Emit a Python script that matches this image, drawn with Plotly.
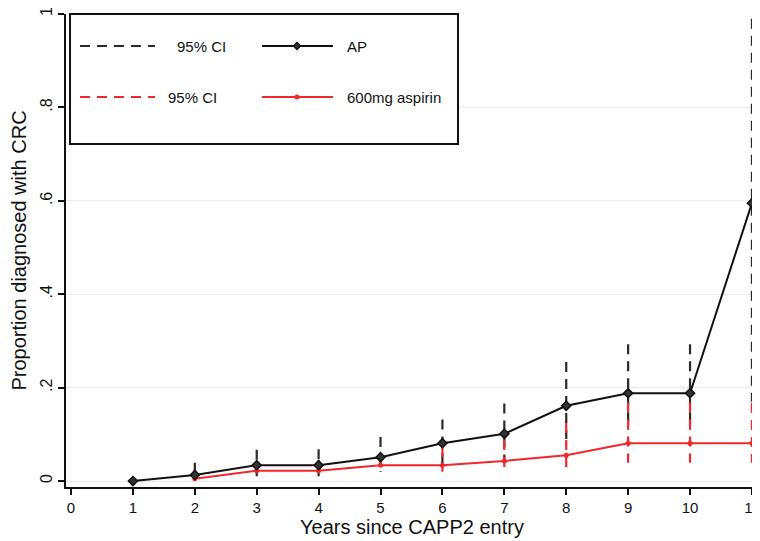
import plotly.graph_objects as go

# ---- data ----
years = [1, 2, 3, 4, 5, 6, 7, 8, 9, 10, 11]
ap = [0.0, 0.013, 0.034, 0.034, 0.051, 0.081, 0.101, 0.161, 0.188, 0.188, 0.595]
ap_lo = [None, 0.002, 0.010, 0.010, 0.020, 0.035, 0.045, 0.090, 0.110, 0.110, 0.170]
ap_hi = [None, 0.039, 0.067, 0.068, 0.094, 0.132, 0.166, 0.255, 0.293, 0.293, 0.990]

asp_years = [2, 3, 4, 5, 6, 7, 8, 9, 10, 11]
asp = [0.005, 0.022, 0.022, 0.034, 0.034, 0.043, 0.055, 0.081, 0.081, 0.081]
asp_lo = [0.0, 0.009, 0.011, 0.020, 0.020, 0.028, 0.030, 0.039, 0.039, 0.039]
asp_hi = [0.024, 0.041, 0.045, 0.056, 0.073, 0.088, 0.124, 0.168, 0.168, 0.167]

x_ticks = list(range(0, 12))
y_ticks = [0, 0.2, 0.4, 0.6, 0.8, 1.0]
y_ticktext = ["0", ".2", ".4", ".6", ".8", "1"]

x_title = "Years since CAPP2 entry"
y_title = "Proportion diagnosed with CRC"
legend_ci = "95% CI"
legend_ap = "AP"
legend_asp = "600mg aspirin"

BLACK = "#111111"
DASHBLK = "#2a2a2a"
RED = "#f0282d"
FONT = "Liberation Sans, Arial, sans-serif"


def ci_segments(xs, lo, hi):
    sx, sy = [], []
    for x, a, b in zip(xs, lo, hi):
        if a is None or b is None:
            continue
        sx += [x, x, None]
        sy += [b, a, None]   # draw from top so the dash pattern starts at the upper end
    return sx, sy


fig = go.Figure()

bx, by = ci_segments(years, ap_lo, ap_hi)
fig.add_trace(go.Scatter(x=bx, y=by, mode="lines", showlegend=False,
                         line=dict(color=DASHBLK, width=2.2, dash="10px,7px")))
rx, ry = ci_segments(asp_years, asp_lo, asp_hi)
fig.add_trace(go.Scatter(x=rx, y=ry, mode="lines", showlegend=False,
                         line=dict(color=RED, width=2.2, dash="10px,7px")))
fig.add_trace(go.Scatter(x=asp_years, y=asp, mode="lines+markers", showlegend=False,
                         line=dict(color=RED, width=2),
                         marker=dict(symbol="circle", size=5, color=RED)))
fig.add_trace(go.Scatter(x=years, y=ap, mode="lines+markers", showlegend=False,
                         line=dict(color=BLACK, width=2),
                         marker=dict(symbol="diamond", size=7, color="#333333",
                                     line=dict(color=BLACK, width=1.5))))

# ---- manual legend (box, sample lines, labels) ----
shapes = [
    dict(type="rect", xref="paper", yref="paper", x0=0.0058, x1=0.5665, y0=0.725, y1=1.0,
         line=dict(color=BLACK, width=2), fillcolor="white", layer="above"),
    dict(type="line", xref="paper", yref="paper", x0=0.0202, x1=0.1286, y0=0.9323, y1=0.9323,
         line=dict(color=DASHBLK, width=2.2, dash="10px,7px"), layer="above"),
    dict(type="line", xref="paper", yref="paper", x0=0.2832, x1=0.3858, y0=0.9323, y1=0.9323,
         line=dict(color=BLACK, width=2), layer="above"),
    dict(type="path", xref="paper", yref="paper", xsizemode="pixel", ysizemode="pixel",
         xanchor=0.3338, yanchor=0.9323, path="M-3.5,0 L0,3.5 L3.5,0 L0,-3.5 Z",
         fillcolor="#333333", line=dict(color=BLACK, width=1.5), layer="above"),
    dict(type="line", xref="paper", yref="paper", x0=0.0202, x1=0.1286, y0=0.8245, y1=0.8245,
         line=dict(color=RED, width=2.2, dash="10px,7px"), layer="above"),
    dict(type="line", xref="paper", yref="paper", x0=0.2832, x1=0.3858, y0=0.8245, y1=0.8245,
         line=dict(color=RED, width=2), layer="above"),
    dict(type="circle", xref="paper", yref="paper", xsizemode="pixel", ysizemode="pixel",
         xanchor=0.3338, yanchor=0.8245, x0=-2.5, x1=2.5, y0=-2.5, y1=2.5,
         fillcolor=RED, line=dict(color=RED, width=0), layer="above"),
]

annotations = [
    dict(text=legend_ci, xref="paper", yref="paper", x=0.1575, y=0.9323, xanchor="left",
         yanchor="middle", showarrow=False, font=dict(size=15, color=BLACK, family=FONT)),
    dict(text=legend_ap, xref="paper", yref="paper", x=0.4032, y=0.9323, xanchor="left",
         yanchor="middle", showarrow=False, font=dict(size=15, color=BLACK, family=FONT)),
    dict(text=legend_ci, xref="paper", yref="paper", x=0.1445, y=0.8245, xanchor="left",
         yanchor="middle", showarrow=False, font=dict(size=15, color=BLACK, family=FONT)),
    dict(text=legend_asp, xref="paper", yref="paper", x=0.4032, y=0.8245, xanchor="left",
         yanchor="middle", showarrow=False, font=dict(size=15, color=BLACK, family=FONT)),
]

# the page body keeps its default 8px margin, so the figure is sized to end at 760x541
fig.update_layout(
    width=752, height=533,
    margin=dict(l=58, r=2, t=6, b=54, autoexpand=False),
    paper_bgcolor="white", plot_bgcolor="white",
    font=dict(family=FONT, size=15, color=BLACK),
    showlegend=False,
    shapes=shapes, annotations=annotations,
    xaxis=dict(range=[-0.081, 11.098], tickvals=x_ticks, ticks="outside", ticklen=6,
               tickwidth=2, tickcolor=BLACK, showline=True, linecolor=BLACK, linewidth=2,
               showgrid=False, zeroline=False, tickfont=dict(size=15), automargin=False,
               ticklabeloverflow="allow",
               title=dict(text=x_title, font=dict(size=20), standoff=4)),
    yaxis=dict(range=[-0.0128, 1.0], tickvals=y_ticks, ticktext=y_ticktext, tickangle=-90,
               ticks="outside", ticklen=6, tickwidth=2, tickcolor=BLACK, showline=True,
               linecolor=BLACK, linewidth=2, showgrid=True, gridcolor="#ececec", gridwidth=1,
               zeroline=False, tickfont=dict(size=16), automargin=False,
               ticklabelstandoff=0, ticklabeloverflow="allow",
               title=dict(text=y_title, font=dict(size=20), standoff=7)),
)

fig.write_html("out.html")
